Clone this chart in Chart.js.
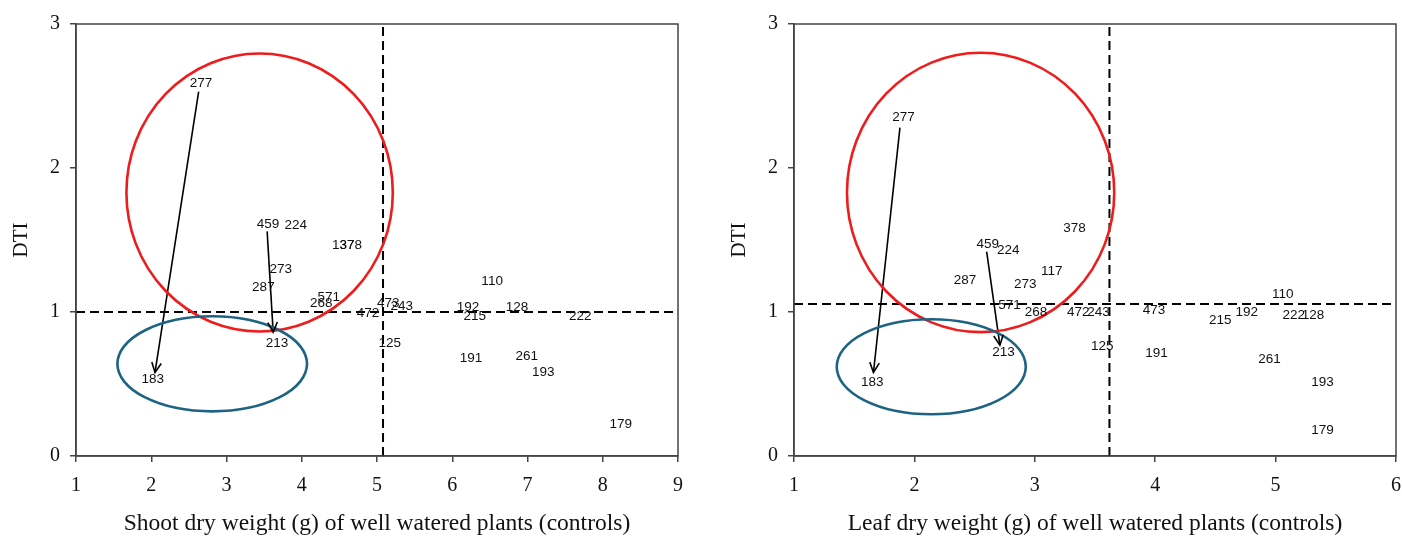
<!DOCTYPE html>
<html>
<head>
<meta charset="utf-8">
<script src="https://cdn.jsdelivr.net/npm/chart.js@4"></script>
<style>
  html, body { margin: 0; padding: 0; background: #fff; }
  .wrap { position: absolute; top: 0; height: 536px; }
  #leftWrap { left: 0; width: 700px; }
  #rightWrap { left: 700px; width: 702px; }
</style>
</head>
<body>
<div class="wrap" id="leftWrap"><canvas id="shootChart" width="700" height="536"></canvas></div>
<div class="wrap" id="rightWrap"><canvas id="leafChart" width="702" height="536"></canvas></div>
<script>
// genotype labels and their positions (shoot dry weight vs DTI)
const shootLabels = ['277', '459', '224', '137', '378', '273', '287', '268', '571', '472', '473', '243',
  '110', '192', '215', '128', '222', '213', '125', '191', '261', '193', '183', '179'];
const shootX = [2.66, 3.55, 3.92, 4.55, 4.65, 3.72, 3.49, 4.26, 4.36, 4.88, 5.15, 5.33,
  6.53, 6.21, 6.30, 6.86, 7.70, 3.67, 5.17, 6.25, 6.99, 7.21, 2.02, 8.24];
const shootY = [2.59, 1.61, 1.60, 1.46, 1.46, 1.30, 1.17, 1.06, 1.10, 0.99, 1.06, 1.04,
  1.21, 1.03, 0.97, 1.03, 0.97, 0.78, 0.78, 0.68, 0.69, 0.58, 0.53, 0.22];

// leaf dry weight vs DTI
const leafLabels = ['277', '378', '459', '224', '117', '287', '273', '571', '268', '472', '243', '473',
  '215', '192', '110', '222', '128', '213', '125', '191', '261', '193', '179', '183'];
const leafX = [1.91, 3.33, 2.61, 2.78, 3.14, 2.42, 2.92, 2.79, 3.01, 3.36, 3.53, 3.99,
  4.54, 4.76, 5.06, 5.15, 5.31, 2.74, 3.56, 4.01, 4.95, 5.39, 5.39, 1.65];
const leafY = [2.35, 1.58, 1.47, 1.43, 1.28, 1.22, 1.19, 1.05, 1.00, 1.00, 1.00, 1.01,
  0.94, 1.00, 1.12, 0.98, 0.98, 0.72, 0.76, 0.71, 0.67, 0.51, 0.18, 0.51];

// threshold lines (mean values)
const shootCutX = 5.08, shootCutY = 1.0;
const leafCutX = 3.62, leafCutY = 1.055;

// arrows: [x0, y0, x1, y1]
const shootArrows = [[2.63, 2.53, 2.05, 0.58], [3.54, 1.56, 3.62, 0.86]];
const leafArrows = [[1.88, 2.28, 1.66, 0.58], [2.60, 1.42, 2.71, 0.77]];

// highlight ellipses: [cx, cy, rx, ry]
const shootRed = [3.44, 1.83, 1.77, 0.965];
const shootBlue = [2.81, 0.64, 1.26, 0.33];
const leafRed = [2.55, 1.83, 1.11, 0.97];
const leafBlue = [2.14, 0.62, 0.785, 0.33];

const yTicks = [0, 1, 2, 3];

const serif = "'Liberation Serif', 'Times New Roman', serif";
const sans = "'Liberation Sans', Arial, sans-serif";

function toPoints(xs, ys) {
  return xs.map((x, i) => ({ x: x, y: ys[i] }));
}

// draws the genotype numbers, arrowheads, ellipses and frame
const extrasPlugin = {
  id: 'extras',
  afterDatasetsDraw(chart, args, opts) {
    const ctx = chart.ctx;
    const xs = chart.scales.x, ys = chart.scales.y;
    const area = chart.chartArea;

    ctx.save();
    ctx.beginPath();
    ctx.rect(area.left, area.top, area.right - area.left, area.bottom - area.top);
    ctx.clip();

    // ellipses
    opts.ellipses.forEach(e => {
      const cx = xs.getPixelForValue(e.v[0]);
      const cy = ys.getPixelForValue(e.v[1]);
      const rx = Math.abs(xs.getPixelForValue(e.v[0] + e.v[2]) - cx);
      const ry = Math.abs(ys.getPixelForValue(e.v[1] + e.v[3]) - cy);
      ctx.beginPath();
      ctx.ellipse(cx, cy, rx, ry, 0, 0, Math.PI * 2);
      ctx.strokeStyle = e.color;
      ctx.lineWidth = 2.6;
      ctx.stroke();
    });

    // arrowheads on the arrow datasets
    chart.data.datasets.forEach((ds, i) => {
      if (!ds.isArrow) return;
      const pts = chart.getDatasetMeta(i).data;
      const a = pts[0], b = pts[1];
      const ang = Math.atan2(b.y - a.y, b.x - a.x);
      const len = 11, spread = 0.45;
      ctx.beginPath();
      ctx.moveTo(b.x - len * Math.cos(ang - spread), b.y - len * Math.sin(ang - spread));
      ctx.lineTo(b.x, b.y);
      ctx.lineTo(b.x - len * Math.cos(ang + spread), b.y - len * Math.sin(ang + spread));
      ctx.strokeStyle = '#000';
      ctx.lineWidth = 1.6;
      ctx.stroke();
    });

    // genotype labels
    const meta = chart.getDatasetMeta(0);
    ctx.font = '13.5px ' + sans;
    ctx.fillStyle = '#111';
    ctx.textAlign = 'center';
    ctx.textBaseline = 'middle';
    meta.data.forEach((pt, i) => {
      ctx.fillText(chart.data.datasets[0].labels[i], pt.x, pt.y);
    });
    ctx.restore();

    // top and right frame
    ctx.save();
    ctx.strokeStyle = '#444';
    ctx.lineWidth = 1.5;
    ctx.strokeRect(area.left, area.top, area.right - area.left, area.bottom - area.top);
    ctx.restore();
  }
};

function makeChart(id, o) {
  const datasets = [
    {
      data: toPoints(o.xs, o.ys),
      labels: o.labels,
      showLine: false,
      pointRadius: 0,
      pointHoverRadius: 0
    },
    {
      data: [{ x: o.xMin, y: o.cutY }, { x: o.xMax, y: o.cutY }],
      showLine: true,
      borderColor: '#000',
      borderWidth: 2,
      borderDash: [9, 5],
      pointRadius: 0
    },
    {
      data: [{ x: o.cutX, y: 0 }, { x: o.cutX, y: 3 }],
      showLine: true,
      borderColor: '#000',
      borderWidth: 2,
      borderDash: [9, 5],
      pointRadius: 0
    }
  ];
  o.arrows.forEach(a => {
    datasets.push({
      data: [{ x: a[0], y: a[1] }, { x: a[2], y: a[3] }],
      showLine: true,
      isArrow: true,
      borderColor: '#000',
      borderWidth: 1.6,
      pointRadius: 0
    });
  });

  return new Chart(document.getElementById(id), {
    type: 'scatter',
    data: { datasets: datasets },
    plugins: [extrasPlugin],
    options: {
      responsive: false,
      animation: false,
      events: [],
      layout: { padding: { left: 0, right: o.padRight, top: 24, bottom: 0 } },
      plugins: {
        legend: { display: false },
        tooltip: { enabled: false },
        extras: {
          ellipses: [
            { v: o.red, color: '#ee1c1c' },
            { v: o.blue, color: '#1d6383' }
          ]
        }
      },
      scales: {
        x: {
          type: 'linear',
          min: o.xMin,
          max: o.xMax,
          afterFit: s => { s.height = 80; s.paddingLeft = 0; s.paddingRight = 0; },
          ticks: {
            stepSize: 1,
            padding: 12,
            color: '#111',
            font: { family: serif, size: 20 }
          },
          grid: { drawOnChartArea: false, drawTicks: true, tickLength: 6, color: '#444', lineWidth: 1.5 },
          border: { display: true, color: '#444', width: 1.5 },
          title: {
            display: true,
            text: o.xTitle,
            color: '#111',
            font: { family: serif, size: 23.5, lineHeight: 1 },
            padding: { top: 0, bottom: 0 }
          }
        },
        y: {
          type: 'linear',
          min: 0,
          max: 3,
          afterFit: s => { s.width = o.yWidth; s.paddingTop = 0; s.paddingBottom = 0; },
          afterBuildTicks: s => { s.ticks = yTicks.map(v => ({ value: v })); },
          ticks: {
            padding: 10,
            color: '#111',
            font: { family: serif, size: 20 }
          },
          grid: { drawOnChartArea: false, drawTicks: true, tickLength: 6, color: '#444', lineWidth: 1.5 },
          border: { display: true, color: '#444', width: 1.5 },
          title: {
            display: true,
            text: 'DTI',
            color: '#111',
            font: { family: serif, size: 21 },
            padding: { top: o.yTitlePad, bottom: 0 }
          }
        }
      }
    }
  });
}

makeChart('shootChart', {
  labels: shootLabels, xs: shootX, ys: shootY,
  xMin: 1, xMax: 9, cutX: shootCutX, cutY: shootCutY,
  arrows: shootArrows, red: shootRed, blue: shootBlue,
  xTitle: 'Shoot dry weight (g) of well watered plants (controls)',
  yWidth: 76, padRight: 22, yTitlePad: 9
});

makeChart('leafChart', {
  labels: leafLabels, xs: leafX, ys: leafY,
  xMin: 1, xMax: 6, cutX: leafCutX, cutY: leafCutY,
  arrows: leafArrows, red: leafRed, blue: leafBlue,
  xTitle: 'Leaf dry weight (g) of well watered plants (controls)',
  yWidth: 94, padRight: 6, yTitlePad: 27
});
</script>
</body>
</html>
